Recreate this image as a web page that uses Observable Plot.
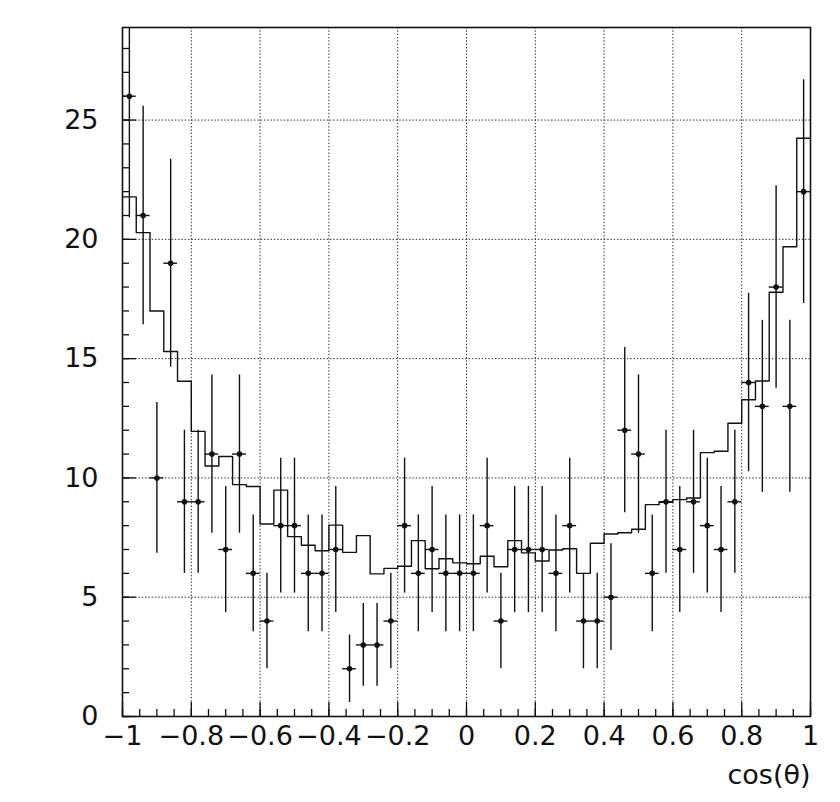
<!DOCTYPE html>
<html><head><meta charset="utf-8">
<script src="https://cdn.jsdelivr.net/npm/d3@7"></script>
<script src="https://cdn.jsdelivr.net/npm/@observablehq/plot@0.6"></script>
<style>body{margin:0;background:#fff}</style>
</head><body><div id="chart"></div>
<script>
// binning of cos(theta): 50 bins of width 0.04 in [-1, 1]
const xMin = -1, xMax = 1, binWidth = 0.04;
const yMax = 28.88;

// observed counts per bin (points with sqrt(N) error bars)
const counts = [26,21,10,19,9, 9,11,7,11,6, 4,8,8,6,6, 7,2,3,3,4, 8,6,7,6,6,
                6,8,4,7,7, 7,6,8,4,4, 5,12,11,6,9, 7,9,8,7,9, 14,13,18,13,22];

// expected histogram (step line)
const expected = [21.78,20.28,17.0,15.3,14.05, 11.95,10.5,10.9,9.72,9.64,
                  8.07,9.49,7.54,7.18,6.95, 8.02,6.88,7.58,5.98,6.21,
                  6.30,7.37,6.19,6.61,6.44, 6.40,6.72,6.28,7.37,6.86,
                  6.52,6.98,7.03,6.0,7.26, 7.65,7.70,7.85,8.88,8.98,
                  9.09,9.16,11.06,11.12,12.29, 13.28,14.06,17.78,19.69,24.24];

const xMajor = [-1,-0.8,-0.6,-0.4,-0.2,0,0.2,0.4,0.6,0.8,1];
const xLabels = ["\u22121","\u22120.8","\u22120.6","\u22120.4","\u22120.2","0","0.2","0.4","0.6","0.8","1"];
const yMajor = [0,5,10,15,20,25];
const xMinorStep = 0.05, yMinorStep = 1;
const xTitle = "cos(\u03b8)";

const W = 840, H = 802, mL = 122, mR = 30, mT = 27, mB = 86;
const plotW = W - mL - mR, plotH = H - mT - mB;

const points = counts.map((n, i) => {
  const lo = xMin + i * binWidth;
  return {lo, hi: lo + binWidth, xc: lo + binWidth / 2, n, e: Math.sqrt(n)};
});
const steps = expected.map((v, i) => ({x: xMin + i * binWidth, y: v}));
steps.push({x: xMax, y: expected[expected.length - 1]});

const xMinor = d3.range(0, Math.round((xMax - xMin) / xMinorStep) + 1).map(k => xMin + k * xMinorStep);
const yMinor = d3.range(0, Math.floor(yMax / yMinorStep) + 1).map(k => k * yMinorStep);

const ink = "#111";
const font = "'DejaVu Sans', Verdana, sans-serif";
const fmtX = d => xLabels[xMajor.findIndex(v => Math.abs(v - d) < 1e-9)];

const chart = Plot.plot({
  width: W, height: H,
  marginLeft: mL, marginRight: mR, marginTop: mT, marginBottom: mB,
  style: {fontFamily: font, fontSize: "27px", background: "#fff", color: ink},
  x: {domain: [xMin, xMax]},
  y: {domain: [0, yMax]},
  marks: [
    // dotted grid
    Plot.ruleX(xMajor.slice(1, -1), {stroke: "#333", strokeWidth: 1, strokeDasharray: "1.5,1.8"}),
    Plot.ruleY(yMajor.slice(1), {stroke: "#333", strokeWidth: 1, strokeDasharray: "1.5,1.8"}),
    // inward ticks
    Plot.tickY(yMinor, {stroke: ink, strokeWidth: 1.3, insetRight: plotW - 7}),
    Plot.tickY(yMajor, {stroke: ink, strokeWidth: 1.3, insetRight: plotW - 14}),
    Plot.tickX(xMinor, {stroke: ink, strokeWidth: 1.3, insetTop: plotH - 7}),
    Plot.tickX(xMajor, {stroke: ink, strokeWidth: 1.3, insetTop: plotH - 14}),
    // expected histogram
    Plot.line(steps, {x: "x", y: "y", curve: "step-after", stroke: ink, strokeWidth: 1.4, clip: true}),
    // data points with errors
    Plot.ruleX(points, {x: "xc", y1: d => d.n - d.e, y2: d => d.n + d.e, stroke: ink, strokeWidth: 1.4, clip: true}),
    Plot.ruleY(points, {y: "n", x1: "lo", x2: "hi", stroke: ink, strokeWidth: 1.4}),
    Plot.dot(points, {x: "xc", y: "n", r: 2.8, fill: ink, stroke: null}),
    // frame
    Plot.frame({stroke: ink, strokeWidth: 1.6}),
    // axis labels
    Plot.axisY(yMajor, {tickSize: 0, tickPadding: 24, label: null, fontSize: 27, fontFamily: font}),
    Plot.axisX(xMajor, {tickSize: 0, tickPadding: 9, label: null, fontSize: 27, fontFamily: font, tickFormat: fmtX}),
    Plot.text([xTitle], {frameAnchor: "bottom-right", textAnchor: "end", lineAnchor: "bottom", dy: 67, fontSize: 27, fontFamily: font, fill: ink})
  ]
});
document.getElementById("chart").appendChild(chart);
</script>
</body></html>
